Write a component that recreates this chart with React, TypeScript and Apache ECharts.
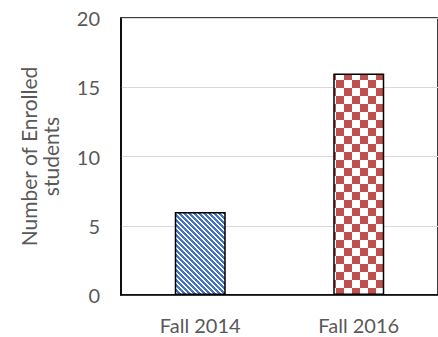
import React, { useEffect, useRef } from "react";
import * as echarts from "echarts";

const categories = ["Fall 2014", "Fall 2016"];
const enrolled = [6, 16];
const yTicks = [0, 5, 10, 15, 20];
const yTitle = "Number of Enrolled\nstudents";

function stripeCanvas() {
  const c = document.createElement("canvas");
  c.width = 5;
  c.height = 5;
  const ctx = c.getContext("2d")!;
  ctx.fillStyle = "#ffffff";
  ctx.fillRect(0, 0, 5, 5);
  ctx.fillStyle = "#4472C4";
  for (let y = 0; y < 5; y++) {
    for (let x = 0; x < 5; x++) {
      if ((((x - y) % 5) + 5) % 5 < 3) ctx.fillRect(x, y, 1, 1);
    }
  }
  return c;
}

function checkerCanvas() {
  const c = document.createElement("canvas");
  c.width = 16;
  c.height = 16;
  const ctx = c.getContext("2d")!;
  ctx.fillStyle = "#ffffff";
  ctx.fillRect(0, 0, 16, 16);
  ctx.fillStyle = "#C0504D";
  ctx.fillRect(0, 0, 8, 8);
  ctx.fillRect(8, 8, 8, 8);
  return c;
}

export default function App() {
  const ref = useRef<HTMLDivElement>(null);
  useEffect(() => {
    if (!ref.current) return;
    const chart = echarts.init(ref.current, undefined, { renderer: "svg" });
    const font = "Lato, 'Open Sans', sans-serif";
    const patterns = [
      { image: stripeCanvas(), repeat: "repeat", imageWidth: 5, imageHeight: 5 },
      { image: checkerCanvas(), repeat: "repeat", imageWidth: 16, imageHeight: 16 },
    ];
    chart.setOption({
      animation: false,
      grid: {
        left: 121,
        top: 18,
        width: 324,
        bottom: 42,
        show: true,
        borderColor: "#000000",
        borderWidth: 1.5,
        backgroundColor: "transparent",
      },
      xAxis: {
        type: "category",
        data: categories,
        axisTick: { show: false },
        axisLine: { show: true, lineStyle: { color: "#000000", width: 1.5 } },
        axisLabel: { color: "#595959", fontSize: 20, lineHeight: 20, fontFamily: font, margin: 20 },
      },
      yAxis: {
        type: "value",
        min: yTicks[0],
        max: yTicks[yTicks.length - 1],
        interval: 5,
        axisLine: { show: true, lineStyle: { color: "#000000", width: 1.5 } },
        axisTick: { show: false },
        splitLine: { show: true, lineStyle: { color: "#D9D9D9", width: 1 } },
        axisLabel: { color: "#595959", fontSize: 20, fontFamily: font, margin: 21 },
        name: yTitle,
        nameLocation: "middle",
        nameGap: 60,
        nameRotate: 90,
        nameTextStyle: { color: "#595959", fontSize: 21, fontFamily: font, lineHeight: 22 },
      },
      series: [
        {
          type: "bar",
          barWidth: 51,
          data: enrolled.map((v, i) => ({
            value: v,
            itemStyle: { color: patterns[i], borderColor: "#000000", borderWidth: 1.5 },
          })),
        },
      ],
    });
    return () => chart.dispose();
  }, []);
  return <div ref={ref} style={{ width: 438, height: 337, position: "absolute", left: 0, top: 0 }} />;
}
